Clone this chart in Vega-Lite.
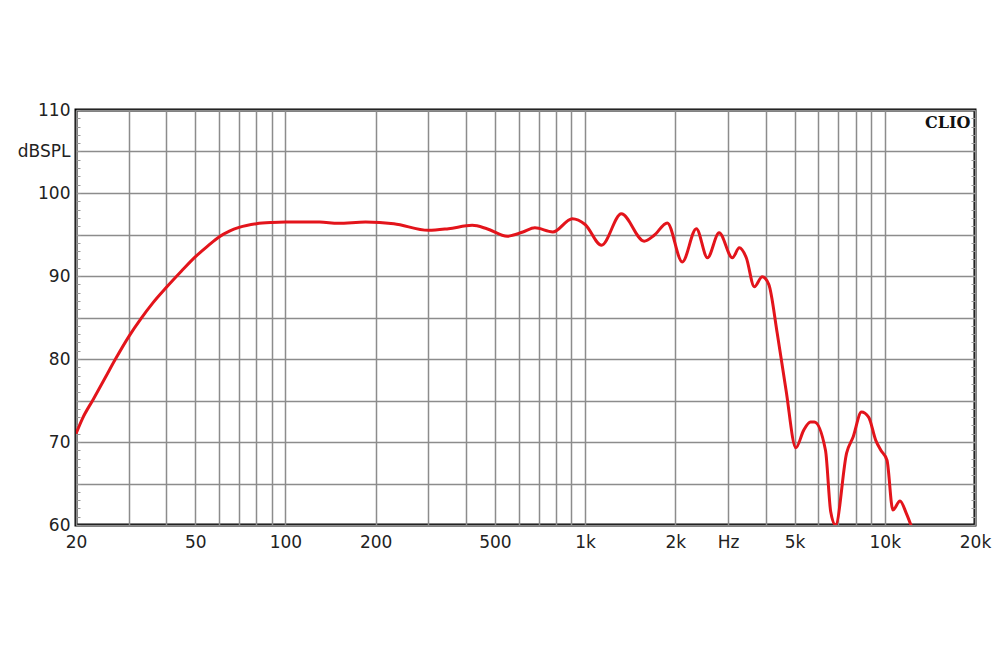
{
  "$schema": "https://vega.github.io/schema/vega-lite/v6.json",
  "autosize": "none",
  "width": 899,
  "height": 415,
  "padding": {"left": 76, "top": 110, "right": 25, "bottom": 125},
  "background": "#ffffff",
  "config": {
    "view": {"stroke": "#000000", "strokeWidth": 3},
    "font": "DejaVu Sans"
  },
  "resolve": {"axis": {"y": "independent"}},
  "layer": [
    {
      "data": {"values": [
        {"f": 20, "db": 71.0}, {"f": 21, "db": 72.8}, {"f": 22.8, "db": 75.1}, {"f": 25, "db": 77.7},
        {"f": 27, "db": 79.9}, {"f": 30, "db": 82.7}, {"f": 33, "db": 84.9}, {"f": 36, "db": 86.7},
        {"f": 40, "db": 88.6}, {"f": 45, "db": 90.6}, {"f": 50, "db": 92.3}, {"f": 55, "db": 93.6},
        {"f": 60, "db": 94.7}, {"f": 65, "db": 95.4}, {"f": 70, "db": 95.85}, {"f": 80, "db": 96.3},
        {"f": 90, "db": 96.45}, {"f": 100, "db": 96.5},
        {"f": 130, "db": 96.5}, {"f": 150, "db": 96.35}, {"f": 185, "db": 96.5}, {"f": 230, "db": 96.3},
        {"f": 300, "db": 95.5}, {"f": 350, "db": 95.7}, {"f": 420, "db": 96.1}, {"f": 470, "db": 95.7},
        {"f": 550, "db": 94.8}, {"f": 620, "db": 95.3}, {"f": 680, "db": 95.8}, {"f": 780, "db": 95.3},
        {"f": 906, "db": 96.9}, {"f": 1000, "db": 96.2}, {"f": 1134, "db": 93.7}, {"f": 1321, "db": 97.5},
        {"f": 1574, "db": 94.2}, {"f": 1700, "db": 94.9}, {"f": 1880, "db": 96.4}, {"f": 2110, "db": 91.7},
        {"f": 2350, "db": 95.7}, {"f": 2560, "db": 92.2}, {"f": 2800, "db": 95.2}, {"f": 3100, "db": 92.2},
        {"f": 3270, "db": 93.4}, {"f": 3450, "db": 92.2}, {"f": 3670, "db": 88.7}, {"f": 3900, "db": 89.9},
        {"f": 4100, "db": 89.0}, {"f": 4376, "db": 83.1}, {"f": 4680, "db": 76.3}, {"f": 5050, "db": 69.3},
        {"f": 5360, "db": 71.4}, {"f": 5650, "db": 72.4}, {"f": 5820, "db": 72.4}, {"f": 6340, "db": 69.0},
        {"f": 6600, "db": 61.6}, {"f": 6850, "db": 60.0}, {"f": 7460, "db": 68.7}, {"f": 7840, "db": 70.6},
        {"f": 8360, "db": 73.6}, {"f": 8830, "db": 73.0}, {"f": 9330, "db": 70.2}, {"f": 9700, "db": 69.0},
        {"f": 10170, "db": 67.8}, {"f": 10640, "db": 61.8}, {"f": 11240, "db": 62.9}, {"f": 11800, "db": 61.4},
        {"f": 12250, "db": 59.9}
      ]},
      "mark": {"type": "line", "color": "#e3141b", "strokeWidth": 3, "interpolate": "monotone", "clip": true},
      "encoding": {
        "x": {
          "field": "f", "type": "quantitative",
          "scale": {"type": "log", "domain": [20, 20000], "nice": false},
          "axis": {
            "title": null,
            "values": [20, 30, 40, 50, 60, 70, 80, 90, 100, 200, 300, 400, 500, 600, 700, 800, 900, 1000, 2000, 3000, 4000, 5000, 6000, 7000, 8000, 9000, 10000, 20000],
            "labelExpr": "datum.value==20?'20':datum.value==50?'50':datum.value==100?'100':datum.value==200?'200':datum.value==500?'500':datum.value==1000?'1k':datum.value==2000?'2k':datum.value==3000?'Hz':datum.value==5000?'5k':datum.value==10000?'10k':datum.value==20000?'20k':''",
            "ticks": false,
            "domain": false,
            "grid": true,
            "gridColor": "#8c8c8c",
            "gridWidth": 1.5,
            "labelPadding": 9,
            "labelFontSize": 17,
            "labelColor": "#222222",
            "labelFlush": false,
            "labelOverlap": false,
            "labelBound": false
          }
        },
        "y": {
          "field": "db", "type": "quantitative",
          "scale": {"domain": [60, 110], "nice": false, "zero": false},
          "axis": {
            "title": null,
            "orient": "left",
            "values": [60,61,62,63,64,65,66,67,68,69,70,71,72,73,74,75,76,77,78,79,80,81,82,83,84,85,86,87,88,89,90,91,92,93,94,95,96,97,98,99,100,101,102,103,104,105,106,107,108,109,110],
            "labelExpr": "datum.value==105?'dBSPL':(datum.value%10==0?datum.label:'')",
            "ticks": true,
            "tickSize": -4,
            "tickColor": "#999999",
            "tickWidth": 1,
            "domain": false,
            "grid": true,
            "gridColor": "#8c8c8c",
            "gridWidth": 1.5,
            "gridOpacity": {"condition": {"test": "datum.value % 5 === 0", "value": 1}, "value": 0},
            "labelPadding": 10,
            "labelFontSize": 17,
            "labelColor": "#222222",
            "labelFlush": false,
            "labelOverlap": false,
            "labelBound": false
          }
        }
      }
    },
    {
      "data": {"values": [{"label": "CLIO", "f": 19300, "db": 108.4}]},
      "mark": {"type": "text", "align": "right", "baseline": "middle", "font": "DejaVu Serif", "fontWeight": "bold", "fontSize": 16, "color": "#111111"},
      "encoding": {
        "x": {"field": "f", "type": "quantitative", "scale": {"type": "log", "domain": [20, 20000], "nice": false}},
        "y": {
          "field": "db", "type": "quantitative",
          "scale": {"domain": [60, 110], "nice": false, "zero": false},
          "axis": {
            "title": null,
            "orient": "right",
            "values": [60,61,62,63,64,65,66,67,68,69,70,71,72,73,74,75,76,77,78,79,80,81,82,83,84,85,86,87,88,89,90,91,92,93,94,95,96,97,98,99,100,101,102,103,104,105,106,107,108,109,110],
            "labels": false,
            "ticks": true,
            "tickSize": -4,
            "tickColor": "#999999",
            "tickWidth": 1,
            "domain": false,
            "grid": false
          }
        },
        "text": {"field": "label"}
      }
    }
  ]
}
